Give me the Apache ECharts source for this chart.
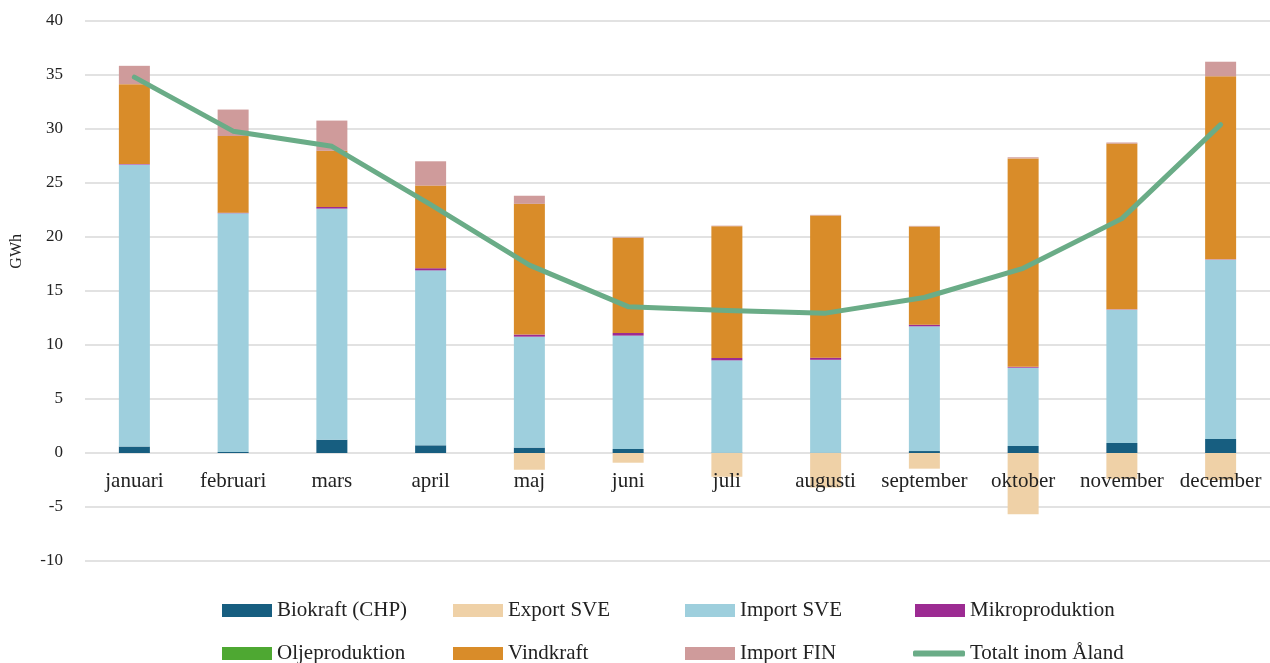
<!DOCTYPE html>
<html lang="sv">
<head>
    <meta charset="UTF-8">
    <title>Elförbrukning Åland</title>
    <style>
        html, body { margin: 0; padding: 0; background: #fff; }
    </style>
</head>
<body>
    <div id="main" style="width: 1270px;height:663px;"></div>
    <script src="https://cdn.jsdelivr.net/npm/echarts@6/dist/echarts.min.js"></script>
    <script>
    var months = ['januari', 'februari', 'mars', 'april', 'maj', 'juni', 'juli', 'augusti', 'september', 'oktober', 'november', 'december'];

    // GWh per månad
    var biokraft  = [0.6, 0.1, 1.23, 0.71, 0.5, 0.37, 0.03, 0.03, 0.18, 0.65, 0.93, 1.3];
    var exportSve = [0, 0, 0, 0, -1.55, -0.9, -2.2, -3.2, -1.45, -5.68, -2.4, -2.5];
    var importSve = [26.1, 22.1, 21.4, 16.2, 10.27, 10.5, 8.55, 8.6, 11.55, 7.25, 12.34, 16.6];
    var mikro     = [0.05, 0.05, 0.15, 0.2, 0.2, 0.25, 0.22, 0.2, 0.15, 0.08, 0.03, 0.03];
    var olje      = [0, 0, 0, 0, 0, 0, 0, 0, 0, 0, 0, 0];
    var vindkraft = [7.4, 7.1, 5.2, 7.65, 12.1, 8.8, 12.2, 13.17, 9.1, 19.3, 15.35, 16.95];
    var importFin = [1.7, 2.45, 2.8, 2.25, 0.75, 0.05, 0.05, 0.05, 0.05, 0.1, 0.1, 1.35];
    var totalt    = [34.8, 29.8, 28.4, 23.0, 17.4, 13.55, 13.2, 12.95, 14.4, 17.1, 21.7, 30.4];

    var yTicks = { min: -10, max: 40, step: 5 };

    var font = '"Liberation Serif", "DejaVu Serif", serif';
    var myChart = echarts.init(document.getElementById('main'));

    function barSerie(name, data, color) {
        return {
            name: name,
            type: 'bar',
            stack: 'total',
            barWidth: 31,
            data: data,
            itemStyle: { color: color }
        };
    }

    function legendItem(name, left, top, isLine) {
        return {
            show: true,
            left: left,
            top: top,
            orient: 'horizontal',
            itemWidth: isLine ? 52 : 50,
            itemHeight: isLine ? 6 : 13,
            itemGap: 5,
            data: [isLine ? { name: name, icon: 'roundRect' } : { name: name, icon: 'rect' }],
            textStyle: { fontFamily: font, fontSize: 21, color: '#222' },
            selectedMode: false
        };
    }

    var gridTop = 21, gridHeight = 540;
    // x-axeln ska ligga vid noll (avståndet från nederkanten till 0)
    var zeroOffset = gridHeight * (0 - yTicks.min) / (yTicks.max - yTicks.min);

    var option = {
        animation: false,
        textStyle: { fontFamily: font },
        grid: {
            left: 85,
            right: -3,
            top: gridTop,
            height: gridHeight
        },
        graphic: [{
            type: 'text',
            left: 9,
            top: 234,
            rotation: Math.PI / 2,
            style: { text: 'GWh', font: '16px ' + font, fill: '#222' }
        }],
        legend: [
            legendItem('Biokraft (CHP)', 217, 595),
            legendItem('Export SVE', 448, 595),
            legendItem('Import SVE', 680, 595),
            legendItem('Mikroproduktion', 910, 595),
            legendItem('Oljeproduktion', 217, 638),
            legendItem('Vindkraft', 448, 638),
            legendItem('Import FIN', 680, 638),
            legendItem('Totalt inom Åland', 908, 638, true)
        ],
        xAxis: {
            type: 'category',
            data: months,
            z: 10,
            position: 'bottom',
            offset: -zeroOffset,
            axisLine: { show: false, onZero: false },
            axisTick: { show: false },
            axisLabel: { fontSize: 21, color: '#222', margin: 18, interval: 0 }
        },
        yAxis: {
            type: 'value',
            min: yTicks.min,
            max: yTicks.max,
            interval: yTicks.step,
            axisLine: { show: false },
            axisTick: { show: false },
            axisLabel: { fontSize: 17, color: '#222', margin: 22 },
            splitLine: { lineStyle: { color: '#d9d9d9', width: 1.5 } }
        },
        series: [
            barSerie('Biokraft (CHP)', biokraft, '#175e80'),
            barSerie('Export SVE', exportSve, '#efd1a7'),
            barSerie('Import SVE', importSve, '#9ecfdd'),
            barSerie('Mikroproduktion', mikro, '#9c2b92'),
            barSerie('Oljeproduktion', olje, '#4ea832'),
            barSerie('Vindkraft', vindkraft, '#d98c29'),
            barSerie('Import FIN', importFin, '#cf9b9b'),
            {
                name: 'Totalt inom Åland',
                type: 'line',
                data: totalt,
                symbol: 'none',
                z: 5,
                itemStyle: { color: '#6aac87' },
                lineStyle: { color: '#6aac87', width: 5, cap: 'round', join: 'round' }
            }
        ]
    };
    myChart.setOption(option);
    </script>
</body>
</html>
